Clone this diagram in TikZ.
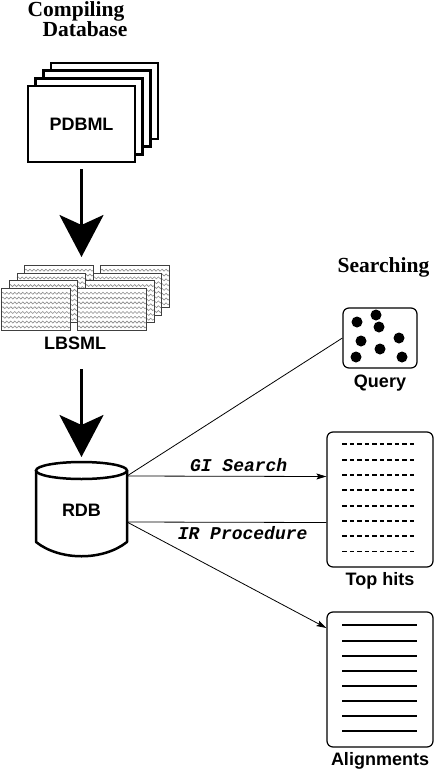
\documentclass[tikz,border=0pt]{standalone}
\usepackage{fontspec}
\setmainfont{Liberation Serif}
\setsansfont{Liberation Sans}
\setmonofont{Liberation Mono}
\usetikzlibrary{shapes, shapes.misc}
\usetikzlibrary{arrows, arrows.meta}
\usetikzlibrary{calc, positioning, decorations.pathmorphing}

\tikzset{
  sheet/.style={draw, rectangle, line width=2.5pt, fill=white, inner sep=0pt,
    minimum width=107pt, minimum height=76pt, font=\sffamily\bfseries\fontsize{18}{20}\selectfont},
  wavesheet/.style={draw=black!75, rectangle, line width=0.9pt, fill=white, inner sep=0pt,
    minimum width=68.5pt, minimum height=42pt,
    path picture={\foreach \r in {1,...,8}
      \draw[black!45, line width=0.6pt, decorate, decoration={snake, segment length=4pt, amplitude=1pt}]
        ([yshift=-\r*4.8pt]path picture bounding box.north west) -- ([yshift=-\r*4.8pt]path picture bounding box.north east);}},
  panel/.style={draw, rectangle, rounded corners=6pt, line width=1.2pt, inner sep=0pt},
  bigarrow/.style={line width=3pt, -{Stealth[length=42pt, width=44pt, inset=10pt]}},
  caption/.style={font=\sffamily\bfseries\fontsize{18}{20}\selectfont, inner sep=0pt},
  heading/.style={font=\bfseries\fontsize{21.5}{24}\selectfont, inner sep=0pt, anchor=base},
  proc/.style={font=\ttfamily\bfseries\itshape\fontsize{18}{20}\selectfont, inner sep=0pt},
  link/.style={line width=0.8pt},
  hitline/.style={line width=1.9pt, dash pattern=on 4.5pt off 3pt},
  alnline/.style={line width=2pt}
}

\begin{document}
\begin{tikzpicture}[x=1pt, y=-1pt, >={Stealth[length=10pt, width=6pt, inset=2pt]}]
        \useasboundingbox (0,0) rectangle (436,773);

        \node[heading] (compiling) at (76,17) {Compiling};
        \node[heading] (database) at (85,36.5) {Database};
        \node[heading] (searching) at (383.5,272) {Searching};

        % PDBML pile
        \foreach \k in {3,2,1}
          \node[sheet, xshift=\k*7.7pt, yshift=\k*7.7pt] at (81.5,124) {};
        \node[sheet] (pdbml) at (81.5,124) {PDBML};

        % LBSML piles
        \foreach \k in {3,2,1,0}
          \foreach \c in {35.8,112}
            \node[wavesheet, xshift=\k*7.7pt, yshift=\k*7.7pt] at (\c,309.5) {};
        \coordinate (lbtop) at (81.5,265);
        \node[caption, anchor=base] (lbsml) at (75,349) {LBSML};

        % RDB
        \node[caption, inner sep=0pt, outer sep=0pt, minimum width=91pt, minimum height=96pt] (rdb) at (81.5,510) {RDB};
        \draw[line width=2.5pt] ([yshift=-8.5pt]rdb.north) ellipse [x radius=45.5pt, y radius=8.5pt];
        \draw[line width=2.5pt, line join=round] ([yshift=-8.5pt]rdb.north west) -- ([yshift=16pt]rdb.south west)
          .. controls +(24,19) and +(-24,19) .. ([yshift=16pt]rdb.south east) -- ([yshift=-8.5pt]rdb.north east);

        \draw[bigarrow, shorten <=6pt, shorten >=8pt] (pdbml.south) -- (lbtop);
        \draw[bigarrow, shorten <=20pt, shorten >=5pt] (lbsml.south -| rdb.north) -- (rdb.north);

        % searching side
        \node[panel, minimum width=74pt, minimum height=60pt] (query) at (380,338) {};
        \foreach \dx/\dy in {-23/-16, -4/-23, -1/-11, -19/3, 19/0, 0/11, -24/19, 22/19}
          \fill ($(query.center)+(\dx,\dy)$) circle (5.5pt);
        \node[caption, below=6pt of query] (querytxt) {Query};

        \node[panel, minimum width=106pt, minimum height=135pt] (tophits) at (380,499.5) {};
        \foreach \k in {0,...,7}
          \draw[hitline] ($(tophits.north west)+(16,13+15.3*\k)$) -- ++(75,0);
        \node[caption, below=5pt of tophits] (tophitstxt) {Top hits};

        \node[panel, minimum width=106pt, minimum height=135pt] (align) at (380,679.5) {};
        \foreach \k in {0,...,7}
          \draw[alnline] ($(align.north west)+(16,14+15.15*\k)$) -- ++(75,0);
        \node[caption, below=5pt of align] (aligntxt) {Alignments};

        \draw[link] ([yshift=34pt]rdb.east) -- (query.west);
        \draw[link, ->] ([yshift=34pt]rdb.east) -- ([yshift=23pt]tophits.west)
          node[proc, pos=.56, above=4pt] {GI Search};
        \draw[link] ([yshift=-12pt]rdb.east) -- ([yshift=-23pt]tophits.west)
          node[proc, pos=.58, below=3.5pt] {IR Procedure};
        \draw[link, ->] ([yshift=-12pt]rdb.east) -- ([yshift=51.5pt]align.west);
    \end{tikzpicture}
\end{document}
